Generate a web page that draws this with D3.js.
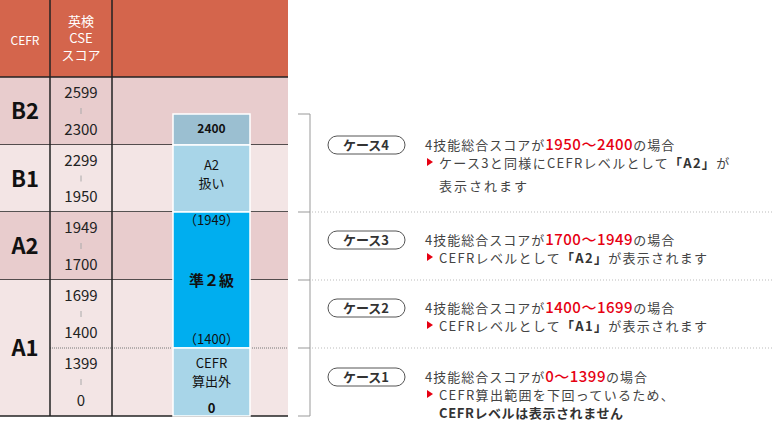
<!DOCTYPE html><html><head><meta charset="utf-8"><script src="https://cdn.jsdelivr.net/npm/d3@7"></script>
<style>body{margin:0;background:#fff}text{font-family:"Noto Sans CJK JP","Noto Sans",sans-serif}</style></head><body>
<svg id="c" width="774" height="435"></svg>
<script>
const levels=["B2","B1","A2","A1"];
const levelLow=[2300,1950,1700,0];
const levelHigh=[2600,2300,1950,1700];
const scoreRanges=[["2599","2300"],["2299","1950"],["1949","1700"],["1699","1400"],["1399","0"]];
const scoreLow=[2300,1950,1700,1400,0];
const scoreHigh=[2600,2300,1950,1700,1400];
const segLow=[2300,1950,1400,0];
const segHigh=[2400,2300,1950,1400];
const caseNames=["ケース4","ケース3","ケース2","ケース1"];
const caseRanges=["1950〜2400","1700〜1949","1400〜1699","0〜1399"];
const caseLow=[1950,1700,1400,0];
const caseHigh=[2400,1949,1699,1399];
const y=d3.scaleLinear().domain([0,1400,1700,1950,2300,2400,2600]).range([416,348,280,212,145,114,77]);
const svg=d3.select("#c");
svg.append("rect").attr("x",0).attr("y",0).attr("width",288).attr("height",77).attr("fill","#d4654c");
svg.append("text").attr("x",25).attr("y",45).attr("text-anchor","middle").attr("fill","#fff").attr("font-size",12).text("CEFR");
["英検","CSE","スコア"].forEach((t,i)=>svg.append("text").attr("x",81).attr("y",26+i*17).attr("text-anchor","middle").attr("fill","#fff").attr("font-size",13).text(t));
levels.forEach((l,i)=>{
  svg.append("rect").attr("x",0).attr("y",y(levelHigh[i])).attr("width",288).attr("height",y(levelLow[i])-y(levelHigh[i])).attr("fill",i%2?"#f3e5e5":"#e8cccd");
  svg.append("text").attr("x",25).attr("y",(y(levelHigh[i])+y(levelLow[i]))/2+8).attr("text-anchor","middle").attr("font-size",22).attr("font-weight","bold").attr("fill","#111").text(l);
  svg.append("line").attr("x1",0).attr("x2",288).attr("y1",y(levelLow[i])).attr("y2",y(levelLow[i])).attr("stroke","#222").attr("stroke-width",1.5);
});
svg.append("line").attr("x1",0).attr("x2",288).attr("y1",77).attr("y2",77).attr("stroke","#222").attr("stroke-width",1.5);
svg.append("line").attr("x1",50).attr("x2",288).attr("y1",y(1400)).attr("y2",y(1400)).attr("stroke","#777").attr("stroke-dasharray","1,1");
[50,112].forEach(x=>svg.append("line").attr("x1",x).attr("x2",x).attr("y1",0).attr("y2",416).attr("stroke","#222").attr("stroke-width",1.5));
scoreRanges.forEach((r,i)=>{
  const a=y(scoreHigh[i]),b=y(scoreLow[i]),m=(a+b)/2;
  svg.append("text").attr("x",81).attr("y",a+21).attr("text-anchor","middle").attr("font-size",15).attr("fill","#222").text(r[0]);
  svg.append("line").attr("x1",81).attr("x2",81).attr("y1",m-3).attr("y2",m+3).attr("stroke","#aaa");
  svg.append("text").attr("x",81).attr("y",b-10).attr("text-anchor","middle").attr("font-size",15).attr("fill","#222").text(r[1]);
});
const segFill=["#9bbfd1","#a8d5e8","#00aeef","#a8d5e8"];
segLow.forEach((lo,i)=>svg.append("rect").attr("x",173).attr("y",y(segHigh[i])).attr("width",77).attr("height",y(lo)-y(segHigh[i])).attr("fill",segFill[i]).attr("stroke","#fff").attr("stroke-width",1.5));
const t=(x,yy,s,txt,w)=>svg.append("text").attr("x",x).attr("y",yy).attr("text-anchor","middle").attr("font-size",s).attr("font-weight",w||"normal").attr("fill","#111").text(txt);
t(211.5,y(2400)+19,12,"2400","bold");
t(211.5,170,13,"A2");t(211.5,188,13,"扱い");
t(211.5,y(1950)+13,13,"（1949）");
t(211.5,286,15,"準２級","bold");
t(211.5,y(1400)-4,13,"（1400）");
t(211.5,368,13,"CEFR");t(211.5,386,13,"算出外");
t(211.5,413,13,"0","bold");
svg.append("line").attr("x1",310).attr("x2",310).attr("y1",y(2400)).attr("y2",416).attr("stroke","#999");
[2400,1950,1700,1400,0].forEach(v=>svg.append("line").attr("x1",298).attr("x2",310).attr("y1",y(v)).attr("y2",y(v)).attr("stroke","#999"));
[1950,1700,1400].forEach(v=>svg.append("line").attr("x1",312).attr("x2",774).attr("y1",y(v)).attr("y2",y(v)).attr("stroke","#bbb").attr("stroke-dasharray","1,2"));
const caseY=[145,240,308,377];
const sub=[["ケース3と同様にCEFRレベルとして","「A2」","が"],["CEFRレベルとして","「A2」","が表示されます"],["CEFRレベルとして","「A1」","が表示されます"],["CEFR算出範囲を下回っているため、","",""]];
caseNames.forEach((c,i)=>{
  const cy=caseY[i];
  svg.append("rect").attr("x",328).attr("y",cy-9).attr("width",77).attr("height",18).attr("rx",9).attr("fill","#fff").attr("stroke","#555");
  svg.append("text").attr("x",366).attr("y",cy+5).attr("text-anchor","middle").attr("font-size",13).attr("font-weight","bold").attr("fill","#333").text(c);
  const tx=svg.append("text").attr("x",425).attr("y",cy+5).attr("font-size",13).attr("letter-spacing",1).attr("fill","#444");
  tx.append("tspan").text("4技能総合スコアが");
  tx.append("tspan").attr("fill","#e60012").attr("font-size",15).attr("font-weight",500).attr("letter-spacing",0.5).text(caseRanges[i]);
  tx.append("tspan").text("の場合");
  svg.append("path").attr("d",`M427,${cy+13}l6,4l-6,4z`).attr("fill","#e60012");
  const s=svg.append("text").attr("x",439).attr("y",cy+23).attr("font-size",13).attr("letter-spacing",1.3).attr("fill","#444");
  s.append("tspan").text(sub[i][0]);
  s.append("tspan").attr("font-weight","bold").attr("fill","#333").text(sub[i][1]);
  s.append("tspan").text(sub[i][2]);
});
svg.append("text").attr("x",439).attr("y",191).attr("font-size",13).attr("letter-spacing",2).attr("fill","#444").text("表示されます");
svg.append("text").attr("x",439).attr("y",418).attr("font-size",13).attr("letter-spacing",0.6).attr("font-weight","bold").attr("fill","#333").text("CEFRレベルは表示されません");
</script></body></html>
